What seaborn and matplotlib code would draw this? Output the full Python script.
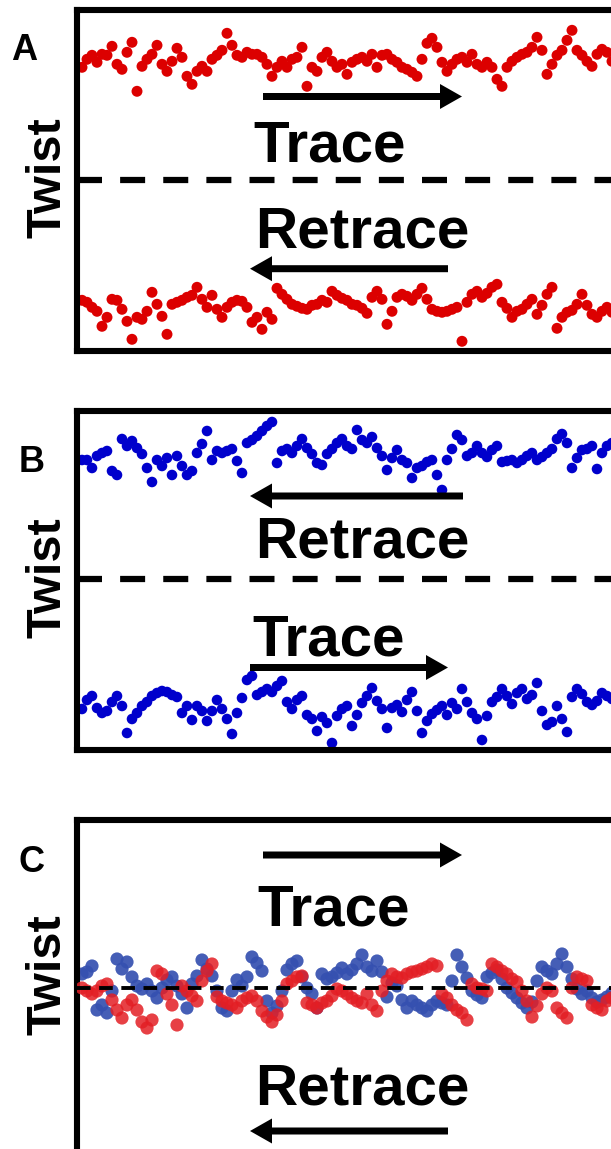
import matplotlib
matplotlib.use("Agg")
import matplotlib.pyplot as plt
from matplotlib.patches import FancyArrow
from matplotlib.transforms import IdentityTransform
import seaborn as sns
import numpy as np
import pandas as pd

# ---- twist readings (arbitrary units, 0 = reference level), one value per frame ----
a_trace = [113, 121, 125, 118, 126, 125, 134, 116, 111, 128, 138, 89, 114, 121, 126, 135, 116, 109, 119, 132,
           123, 104, 96, 109, 114, 109, 121, 125, 130, 147, 135, 125, 123, 128, 126, 126, 123, 116, 104, 113,
           119, 113, 121, 123, 133, 94, 113, 109, 123, 128, 119, 113, 116, 106, 118, 121, 123, 119, 126, 113,
           125, 126, 121, 118, 113, 111, 108, 104, 121, 137, 142, 133, 118, 109, 116, 121, 123, 118, 126, 116,
           113, 118, 113, 101, 94, 113, 119, 123, 126, 128, 133, 143, 130, 106, 116, 125, 130, 140, 150, 130,
           125, 119, 114, 126, 131, 128, 119]
a_retrace = [-120, -122, -127, -131, -146, -137, -119, -120, -129, -141, -159, -137, -139, -131, -112, -124, -136, -154, -124, -122,
             -120, -117, -115, -107, -119, -127, -115, -129, -137, -127, -122, -120, -121, -127, -142, -137, -149, -132, -139, -108,
             -114, -119, -124, -126, -128, -129, -125, -124, -120, -122, -111, -115, -118, -120, -124, -125, -128, -133, -117, -111,
             -119, -144, -131, -117, -114, -116, -120, -114, -108, -119, -129, -131, -132, -131, -129, -127, -161, -122, -114, -111,
             -117, -113, -107, -104, -122, -128, -137, -131, -129, -124, -119, -134, -125, -114, -107, -148, -137, -132, -130, -124,
             -114, -125, -134, -137, -131, -127, -132]
b_retrace = [119, 119, 111, 123, 126, 128, 108, 104, 140, 133, 138, 131, 125, 111, 97, 119, 113, 121, 104, 123,
             113, 104, 108, 126, 135, 148, 119, 128, 126, 128, 130, 118, 106, 136, 139, 143, 148, 153, 157, 116,
             128, 130, 126, 133, 140, 131, 125, 116, 114, 125, 130, 136, 140, 133, 130, 149, 139, 136, 142, 131,
             123, 109, 121, 129, 119, 116, 101, 111, 113, 117, 119, 104, 89, 119, 130, 144, 139, 123, 126, 133,
             126, 122, 129, 133, 117, 118, 119, 116, 119, 123, 126, 119, 122, 126, 130, 140, 145, 136, 111, 121,
             129, 130, 133, 110, 126, 133, 136]
b_trace = [-130, -121, -117, -129, -134, -132, -123, -117, -127, -154, -140, -134, -127, -123, -117, -114, -112, -113, -116, -118,
           -134, -127, -141, -127, -132, -142, -132, -121, -130, -140, -155, -134, -119, -101, -97, -116, -113, -110, -113, -107,
           -102, -123, -130, -121, -117, -136, -140, -152, -138, -144, -164, -137, -130, -127, -147, -136, -124, -117, -109, -122,
           -130, -149, -129, -126, -133, -121, -113, -132, -154, -142, -135, -131, -127, -136, -124, -130, -110, -123, -134, -140,
           -161, -137, -123, -118, -110, -117, -125, -114, -110, -120, -116, -104, -132, -146, -143, -127, -140, -153, -118, -110,
           -115, -123, -126, -122, -114, -117, -120]
c_blue = [14, 16, 22, -22, -17, -25, -3, 29, 19, 26, 11, 2, -1, 4, -3, -10, 0, 8, 11, 2,
          -6, -20, 4, 12, 28, 19, 12, -3, -20, -23, -3, 8, 2, 11, 31, 25, 17, -13, -25, -18,
          -3, 18, 24, 27, 11, 0, -6, -20, 14, 9, 11, 15, 20, 14, 18, 24, 33, 21, 17, 27,
          16, -9, 5, 2, -12, -20, -13, -17, -20, -23, -17, -13, -15, -17, 7, 33, 21, 10, -3, -7,
          -10, 11, 15, 18, 9, 0, -5, -10, -15, -20, -14, 7, 21, 17, 14, 24, 34, 21, 9, -1,
          -6, -3, -10, -14, -12, -9, -5]
c_red = [0, -3, -6, -3, 2, 4, -12, -22, -30, -17, -12, -22, -34, -40, -32, 17, 14, -6, -17, -37,
         2, -3, -8, -13, 7, 17, 24, -9, -13, -15, -17, -20, -13, -10, -8, -13, -23, -29, -34, -27,
         -13, 4, 7, 11, 12, -15, -17, -20, -15, -13, -8, -1, -3, -6, -10, -13, -15, -6, -17, -23,
         -3, 7, 14, 11, 10, 14, 16, 17, 19, 21, 24, 22, -6, -10, -17, -22, -25, -32, 4, 0,
         -1, -3, 24, 21, 17, 14, 9, 6, -3, -13, -29, -18, -6, 0, -3, -20, -25, -30, 0, 11,
         9, 7, -17, -20, -22, -13, -10]

panel_letters = ["A", "B", "C"]
direction_words = ["Trace", "Retrace"]
axis_title = "Twist"

RED = "#dc0000"
BLUE = "#0000cc"
C_RED = "#e31e24"
C_BLUE = "#3550b0"

sns.set_theme(style="white")
plt.rcParams["font.family"] = ["Liberation Sans", "DejaVu Sans"]

W, H = 611, 1149
fig = plt.figure(figsize=(W / 100, H / 100), dpi=100)
fig.patch.set_facecolor("white")

SPINE_LW = 4.4


def make_axes(top, bottom, zero):
    ax = fig.add_axes([77 / W, 1 - bottom / H, (700 - 77) / W, (bottom - top) / H])
    ax.set_xlim(-1, 123.6)
    ax.set_ylim(zero - bottom, zero - top)
    ax.set_xticks([])
    ax.set_yticks([])
    ax.set_facecolor("none")
    for s in ax.spines.values():
        s.set_visible(True)
        s.set_linewidth(SPINE_LW)
        s.set_color("black")
    return ax


def frame_df(values):
    return pd.DataFrame({"frame": np.arange(len(values)), "twist": values})


def scatter(ax, values, color, size, alpha=1.0, z=2):
    sns.scatterplot(data=frame_df(values), x="frame", y="twist", ax=ax, color=color,
                    s=size, linewidth=0, edgecolor="none", alpha=alpha, zorder=z, legend=False)
    ax.set_xlabel("")
    ax.set_ylabel("")


def arrow(x0, x1, y):
    y = H - y
    fig.add_artist(FancyArrow(x0, y, x1 - x0, 0, width=7, head_width=25, head_length=22,
                              length_includes_head=True, color="black", lw=0,
                              transform=IdentityTransform()))


def label(text, xc, ybase, size=42):
    fig.text(xc / W, 1 - ybase / H, text, ha="center", va="baseline",
             fontsize=size, fontweight="bold", color="black")


# ---- panel A ----
axA = make_axes(10.3, 351, 180.3)
scatter(axA, a_trace, RED, 62)
scatter(axA, a_retrace, RED, 62)
axA.axhline(0, color="black", lw=4.5, linestyle=(0, (4.0, 2.9)), zorder=1)

# ---- panel B ----
axB = make_axes(411, 750, 579)
scatter(axB, b_retrace, BLUE, 58)
scatter(axB, b_trace, BLUE, 58)
axB.axhline(0, color="black", lw=4.5, linestyle=(0, (4.0, 2.9)), zorder=1)

# ---- panel C ----
axC = make_axes(819.5, 1156.5, 988)
scatter(axC, c_blue, C_BLUE, 90, alpha=0.92, z=2)
scatter(axC, c_red, C_RED, 90, alpha=0.85, z=3)
axC.axhline(0, color="black", lw=2.8, linestyle=(0, (3.5, 2.2)), zorder=5)

# ---- direction arrows and words ----
arrow(263, 462, 96.5)
label(direction_words[0], 330, 161.7)
label(direction_words[1], 362, 248)
arrow(448, 250, 268.7)

arrow(463, 250, 496)
label(direction_words[1], 362, 558)
label(direction_words[0], 329, 656)
arrow(250, 448, 667.5)

arrow(263, 462, 855)
label(direction_words[0], 334, 926)
label(direction_words[1], 362, 1104.5)
arrow(448, 250, 1131)

# ---- panel letters and axis titles ----
for letter, (x, y) in zip(panel_letters, [(24, 50), (32, 462), (31, 862)]):
    fig.text(x / W, 1 - y / H, letter, ha="center", va="center",
             fontsize=26, fontweight="bold", color="black")
for y in [178, 578, 975]:
    fig.text(48 / W, 1 - y / H, axis_title, ha="center", va="center", rotation=90,
             fontsize=35, fontweight="bold", color="black")

fig.savefig("out.png", dpi=100, facecolor="white")
